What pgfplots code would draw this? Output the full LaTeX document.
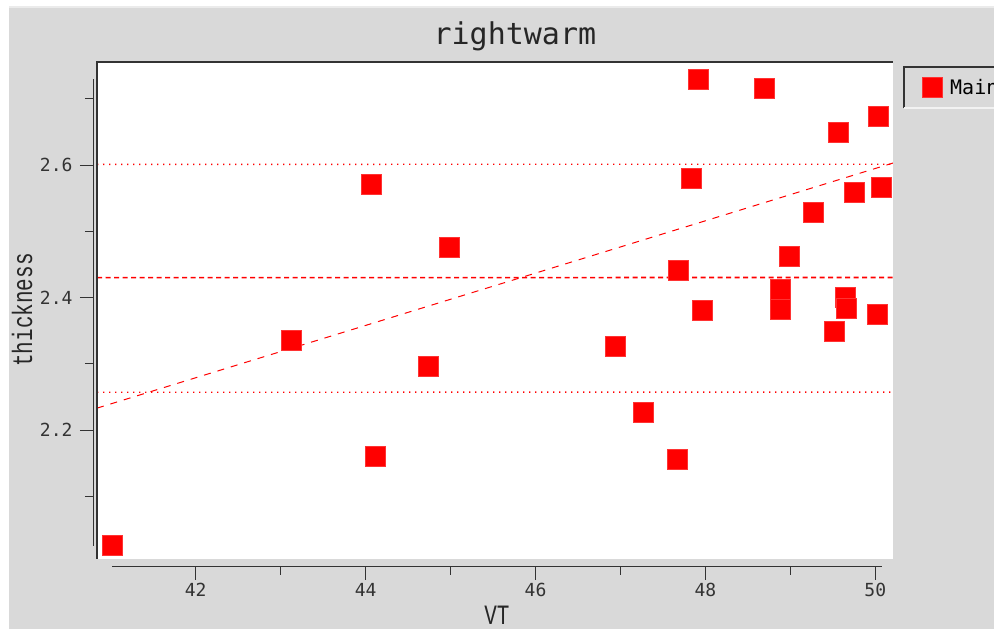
\documentclass[border=0pt]{standalone}
\usepackage{fontspec}
\usepackage{pgfplots}
\pgfplotsset{compat=1.18}
\newfontfamily\titlefont{DejaVu Sans Mono}
\newfontfamily\labfont[FakeStretch=0.75]{Liberation Mono}
\newfontfamily\tickfont{DejaVu Sans Mono}
\definecolor{bg}{HTML}{D9D9D9}
\definecolor{frm}{HTML}{333333}
\definecolor{pr}{HTML}{FF0000}
\begin{document}
\begin{tikzpicture}[x=1pt,y=1pt]
\useasboundingbox (0,0) rectangle (994,629);
\fill[white] (0,0) rectangle (994,629);
\fill[bg] (9,0) rectangle (994,621);
\fill[black!8] (9,621) rectangle (994,623);
\begin{axis}[
  at={(97pt,70pt)}, anchor=south west,
  scale only axis, width=796pt, height=497pt,
  xmin=40.838, xmax=50.208, ymin=2.0053, ymax=2.7555,
  axis background/.style={fill=white},
  axis lines=left,
  axis line style={draw=none},
  axis x line shift=8pt, axis y line shift=4pt,
  tick align=outside,
  major tick length=13pt, minor tick length=8pt,
  tick style={draw=frm, line width=1pt},
  xtick={42,44,46,48,50}, minor xtick={43,45,47,49},
  ytick={2.2,2.4,2.6}, minor ytick={2.1,2.3,2.5,2.7},
  /pgf/number format/assume math mode=true,
  yticklabel style={xshift=-4pt, /pgf/number format/fixed, /pgf/number format/fixed zerofill, /pgf/number format/precision=1},
  ticklabel style={font=\tickfont\fontsize{18}{18}\selectfont, text=frm},
  title={rightwarm},
  title style={at={(0.525,1)}, anchor=base, yshift=11pt, inner sep=0pt, font=\titlefont\fontsize{30}{30}\selectfont, text=black!85},
  xlabel={VT},
  xlabel style={at={(0.5025,0)}, anchor=north, yshift=-47pt, inner sep=0pt, font=\labfont\fontsize{28}{28}\selectfont, text=black!85},
  ylabel={thickness},
  ylabel style={at={(0,0.501)}, anchor=center, yshift=75pt, inner sep=0pt, font=\labfont\fontsize{28}{28}\selectfont, text=black!85},
  clip=false,
  legend style={name=leg, at={(1.0138,0.99)}, anchor=north west, fill=bg, draw=none,
    font=\tickfont\fontsize{20}{20}\selectfont, inner xsep=18pt, inner ysep=10pt, column sep=6pt},
  legend cell align=left,
]
% +/- 1 sd and mean lines
\addplot[forget plot, pr, line width=1.4pt, dash pattern={on 1.4pt off 4.6pt}] table {
x y
40.838 2.6010
50.208 2.6012
};
\addplot[forget plot, pr, line width=1.4pt, dash pattern={on 1.4pt off 4.6pt}] table {
x y
40.838 2.2570
50.208 2.2572
};
\addplot[forget plot, pr, line width=1.6pt, dash pattern={on 5pt off 3.5pt}] table {
x y
40.838 2.4300
50.208 2.4302
};
% regression line
\addplot[forget plot, pr, line width=1pt, dash pattern={on 7pt off 7pt}] table {
x y
40.838 2.233
50.208 2.603
};
% data
\addplot[only marks, mark=square*, mark size=10pt, mark options={fill=red, draw=red!80!white, line width=0.6pt}] coordinates {
(41.023,2.0264) (43.122,2.3358) (44.063,2.5713) (44.110,2.1608) (44.735,2.2966)
(44.982,2.4762) (46.942,2.3268) (47.271,2.2264) (47.671,2.1562) (47.683,2.4415)
(47.828,2.5792) (47.921,2.7291) (47.960,2.3814) (48.698,2.7165) (48.878,2.4128)
(48.878,2.3826) (48.984,2.4619) (49.266,2.5291) (49.514,2.3487) (49.567,2.6491)
(49.643,2.4000) (49.661,2.3842) (49.750,2.5592) (50.020,2.3743) (50.038,2.6740)
(50.073,2.5660)};
\addlegendentry{Main}
% axis lines (offset from plot area)
\draw[frm, line width=1pt] ([xshift=-4pt]axis cs:40.838,2.025) -- ([xshift=-4pt]axis cs:40.838,2.7298);
\draw[frm, line width=1pt] ([yshift=-8pt]axis cs:41.015,2.0053) -- ([yshift=-8pt]axis cs:50.079,2.0053);
% plot frame
\draw[frm, line width=2pt] (rel axis cs:0,0) -- (rel axis cs:0,1) -- (rel axis cs:1,1);
\draw[black!15, line width=2pt] ([xshift=1pt]rel axis cs:1,1) -- ([xshift=1pt]rel axis cs:1,0);
\end{axis}
\draw[frm, line width=2pt] (leg.south west) -- (leg.north west) -- (leg.north east);
\draw[black!5, line width=1.5pt] (leg.south west) -- (leg.south east);
\end{tikzpicture}
\end{document}
